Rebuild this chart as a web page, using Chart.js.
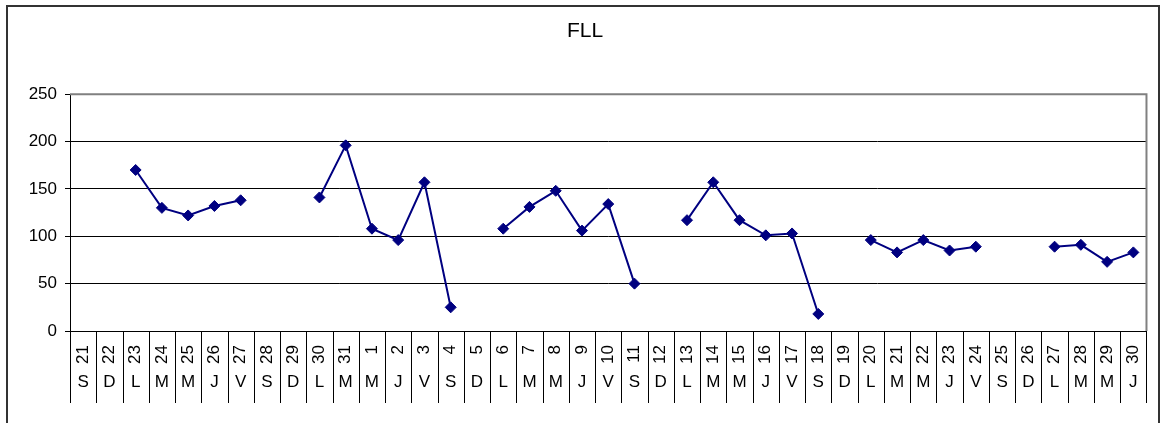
<!DOCTYPE html>
<html>
<head>
<meta charset="utf-8">
<title>FLL</title>
<script src="https://cdn.jsdelivr.net/npm/chart.js@4.4.1/dist/chart.umd.min.js"></script>
<style>
  body { margin: 0; background: #fff; }
  #marco {
    position: absolute;
    left: 6px;
    top: 5px;
    width: 1154px;
    height: 440px;
    border: 2px solid #333;
    box-sizing: border-box;
  }
  #grafico { position: absolute; left: 0; top: 0; }
</style>
</head>
<body>
<div id="marco"></div>
<canvas id="grafico" width="1168" height="423"></canvas>
<script>
// Días del mes (dos meses seguidos)
const dias = [21, 22, 23, 24, 25, 26, 27, 28, 29, 30, 31,
  1, 2, 3, 4, 5, 6, 7, 8, 9, 10, 11, 12, 13, 14, 15, 16, 17, 18, 19, 20,
  21, 22, 23, 24, 25, 26, 27, 28, 29, 30];

// Inicial del día de la semana
const letras = ["S", "D", "L", "M", "M", "J", "V", "S", "D", "L", "M",
  "M", "J", "V", "S", "D", "L", "M", "M", "J", "V", "S", "D", "L", "M",
  "M", "J", "V", "S", "D", "L", "M", "M", "J", "V", "S", "D", "L", "M",
  "M", "J"];

// Valores FLL (null = sin dato)
const valoresFLL = [null, null, 170, 130, 122, 132, 138, null, null, 141, 196,
  108, 96, 157, 25, null, 108, 131, 148, 106, 134, 50, null, 117, 157,
  117, 101, 103, 18, null, 96, 83, 96, 85, 89, null, null, 89, 91,
  73, 83];

const ticksY = [0, 50, 100, 150, 200, 250];

const fuente = "'Liberation Sans', Arial, sans-serif";

// Separadores verticales bajo el eje X y borde gris del área del gráfico
const separadores = {
  id: "separadores",
  afterDraw(chart) {
    const { ctx, chartArea } = chart;
    const x = chart.scales.x;
    const x2 = chart.scales.x2;
    ctx.save();
    ctx.strokeStyle = "#000";
    ctx.lineWidth = 1;
    for (let i = 0; i <= dias.length; i++) {
      const px = Math.round(x.getPixelForValue(i - 0.5)) + 0.5;
      ctx.beginPath();
      ctx.moveTo(px, chartArea.bottom);
      ctx.lineTo(px, x2.bottom);
      ctx.stroke();
    }
    // borde gris arriba y a la derecha
    ctx.strokeStyle = "#808080";
    ctx.lineWidth = 2;
    ctx.beginPath();
    ctx.moveTo(chartArea.left, chartArea.top);
    ctx.lineTo(chartArea.right, chartArea.top);
    ctx.lineTo(chartArea.right, chartArea.bottom);
    ctx.stroke();
    ctx.restore();
  },
};

const ctx = document.getElementById("grafico").getContext("2d");

new Chart(ctx, {
  type: "line",
  data: {
    labels: dias.map(String),
    datasets: [
      {
        label: "FLL",
        data: valoresFLL,
        borderColor: "#000080",
        backgroundColor: "#000080",
        borderWidth: 2,
        pointStyle: "rectRot",
        pointRadius: 5.5,
        pointBorderWidth: 1,
        pointBackgroundColor: "#000080",
        pointBorderColor: "#000080",
        spanGaps: false,
        tension: 0,
        xAxisID: "x",
      },
    ],
  },
  options: {
    responsive: false,
    animation: false,
    layout: {
      padding: { left: 22, right: 20, top: 0, bottom: 20 },
    },
    plugins: {
      legend: { display: false },
      tooltip: { enabled: false },
      title: {
        display: true,
        text: "FLL",
        color: "#000",
        font: { family: fuente, size: 21, weight: "normal" },
        padding: { top: 19, bottom: 50 },
      },
    },
    scales: {
      x: {
        type: "category",
        position: "bottom",
        offset: true,
        weight: 0,
        grid: { display: false, drawTicks: false, tickLength: 0 },
        border: { display: true, color: "#000", width: 1 },
        ticks: {
          autoSkip: false,
          minRotation: 90,
          maxRotation: 90,
          padding: 14,
          color: "#000",
          font: { family: fuente, size: 17 },
        },
        afterFit: (scale) => {
          scale.height = 36;
        },
      },
      x2: {
        type: "category",
        position: "bottom",
        labels: letras,
        offset: true,
        weight: 1,
        grid: { display: false, drawTicks: false, tickLength: 0 },
        border: { display: false },
        ticks: {
          autoSkip: false,
          maxRotation: 0,
          padding: 5,
          color: "#000",
          font: { family: fuente, size: 17 },
        },
        afterFit: (scale) => {
          scale.height = 36;
        },
      },
      y: {
        min: 0,
        max: 250,
        afterBuildTicks: (scale) => {
          scale.ticks = ticksY.map((v) => ({ value: v }));
        },
        grid: {
          color: (c) => (c.tick && c.tick.value === 250 ? "#808080" : "#000"),
          tickColor: "#000",
          tickLength: 5,
        },
        border: { display: true, color: "#000", width: 1 },
        ticks: {
          padding: 8,
          color: "#000",
          font: { family: fuente, size: 17 },
        },
        afterFit: (scale) => {
          scale.width = 48;
        },
      },
    },
  },
  plugins: [separadores],
});
</script>
</body>
</html>
